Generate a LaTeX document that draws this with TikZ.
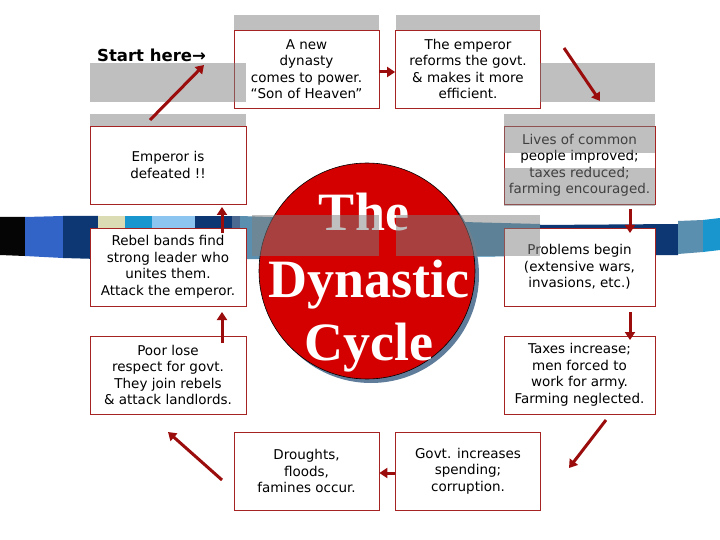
\documentclass[tikz,border=0pt]{standalone}
\usepackage{fontspec}
\setmainfont{DejaVu Sans}
\newfontfamily\titlefont{Liberation Serif}
\usetikzlibrary{arrows.meta}
\definecolor{boxred}{RGB}{165,35,35}
\definecolor{arrred}{RGB}{155,12,12}
\definecolor{circred}{RGB}{212,0,0}
\definecolor{shadowc}{RGB}{95,125,155}
\definecolor{overlayc}{RGB}{128,128,128}
\definecolor{sblack}{RGB}{5,5,5}
\definecolor{sblue}{RGB}{50,100,200}
\definecolor{snavy}{RGB}{12,55,115}
\definecolor{sbeige}{RGB}{220,220,180}
\definecolor{steal}{RGB}{25,150,205}
\definecolor{slight}{RGB}{140,198,240}
\definecolor{sslate}{RGB}{75,105,145}
\definecolor{sgrey}{RGB}{90,143,175}
\definecolor{smid}{RGB}{58,134,176}
\tikzset{
  box/.style={draw=boxred, line width=0.8pt, fill=white, minimum height=78pt,
    inner sep=0pt, align=center, font=\fontsize{13.5}{16.5}\selectfont},
  cbox/.style={box, minimum width=145pt},
  lbox/.style={box, minimum width=156pt},
  rbox/.style={box, minimum width=151pt},
  veil/.style={fill=overlayc, opacity=0.5},
  arr/.style={draw=arrred, line width=3pt, -{Triangle[length=8pt,width=10pt]}},
  ttl/.style={text=white, anchor=base, font=\titlefont\bfseries\fontsize{54}{60}\selectfont, inner sep=0pt}
}
\begin{document}
\begin{tikzpicture}[x=1pt,y=-1pt]
\useasboundingbox[fill=white] (0,0) rectangle (720,540);
% decorative strip
\fill[sblack] (0,217) -- (25,217) -- (25,256) -- (0,255) -- cycle;
\fill[sblue] (25,217) -- (63,216) -- (63,258) -- (25,256) -- cycle;
\fill[snavy] (63,216) -- (98,216) -- (98,259) -- (63,258) -- cycle;
\fill[sbeige] (98,216) -- (125,216) -- (125,259) -- (98,259) -- cycle;
\fill[steal] (125,216) -- (152,216) -- (152,259) -- (125,259) -- cycle;
\fill[slight] (152,216) -- (195,216) -- (195,259) -- (152,259) -- cycle;
\fill[snavy] (195,216) -- (232,216) -- (232,259) -- (195,259) -- cycle;
\fill[sslate] (232,216) -- (240,216) -- (240,259) -- (232,259) -- cycle;
\fill[sgrey] (240,216) -- (270,217) -- (270,259) -- (240,259) -- cycle;
\fill[smid] (270,217) -- (540,224) -- (540,256) -- (270,259) -- cycle;
\fill[snavy] (540,225) -- (678,224) -- (678,255) -- (540,256) -- cycle;
\fill[sgrey] (678,221) -- (703,220) -- (703,252) -- (678,254) -- cycle;
\fill[steal] (703,220) -- (720,218) -- (720,250) -- (703,252) -- cycle;
% circle
\fill[shadowc] (371,275) circle[radius=108];
\node[circle, draw=black, line width=0.6pt, fill=circred, minimum size=216pt, inner sep=0pt] (circ) at (367,271) {};
\node[ttl] (t1) at (364,230) {The};
\node[ttl] (t2) at (369,297) {Dynastic};
\node[ttl] (t3) at (369,360) {Cycle};
% boxes
\node[font=\bfseries\fontsize{16.5}{18}\selectfont, anchor=base west, inner sep=0pt] (start) at (97,62) {Start here→};
\node[cbox] (dyn) at (306.5,69) {A new\\dynasty\\comes to power.\\“Son of Heaven”};
\node[cbox] (reform) at (468,69) {The emperor\\reforms the govt.\\\& makes it more\\efficient.};
\node[lbox] (defeat) at (168,165) {Emperor is\\defeated !!};
\node[rbox] (lives) at (579.5,165.5) {Lives of common\\people improved;\\taxes reduced;\\farming encouraged.};
\node[lbox] (rebel) at (168,267) {Rebel bands find\\strong leader who\\unites them.\\Attack the emperor.};
\node[rbox] (problems) at (579.5,267) {Problems begin\\(extensive wars,\\invasions, etc.)};
\node[lbox] (poor) at (168,375) {Poor lose\\respect for govt.\\They join rebels\\\& attack landlords.};
\node[rbox] (taxes) at (579.5,375) {Taxes increase;\\men forced to\\work for army.\\Farming neglected.};
\node[cbox] (drought) at (306.5,471) {Droughts,\\floods,\\famines occur.};
\node[cbox] (govt) at (468,471) {Govt. increases\\spending;\\corruption.};
% translucent grey bars
\fill[veil] (234,15) rectangle (379,30);
\fill[veil] (396,15) rectangle (540,30);
\fill[veil] (90,63) rectangle (246,102);
\fill[veil] (540,63) rectangle (655,102);
\fill[veil] (90,114) rectangle (246,126);
\fill[veil] (504,114) rectangle (655,153);
\fill[veil] (504,168) rectangle (655,206);
\fill[veil] (252,215) rectangle (379,256);
\fill[veil] (396,215) rectangle (540,256);
% arrows
\coordinate (a1s) at (150,120);
\coordinate (a1e) at (204,65);
\coordinate (a3s) at (564,48);
\coordinate (a3e) at (600,101);
\coordinate (a4s) at (630,209);
\coordinate (a4e) at (630,233);
\coordinate (a5s) at (630,312);
\coordinate (a5e) at (630,340);
\coordinate (a6s) at (606,420);
\coordinate (a6e) at (569,468);
\coordinate (a8s) at (222,480);
\coordinate (a8e) at (168,432);
\coordinate (a9s) at (222,343);
\coordinate (a9e) at (222,312);
\coordinate (a10s) at (222,233);
\coordinate (a10e) at (222,207);
\draw[arr] (a1s) -- (a1e);
\draw[arr] ([yshift=-3pt]dyn.east) -- ([yshift=-3pt]reform.west);
\draw[arr] (a3s) -- (a3e);
\draw[arr] (a4s) -- (a4e);
\draw[arr] (a5s) -- (a5e);
\draw[arr] (a6s) -- (a6e);
\draw[arr] ([yshift=-2pt]govt.west) -- ([yshift=-2pt]drought.east);
\draw[arr] (a8s) -- (a8e);
\draw[arr] (a9s) -- (a9e);
\draw[arr] (a10s) -- (a10e);
\end{tikzpicture}
\end{document}
